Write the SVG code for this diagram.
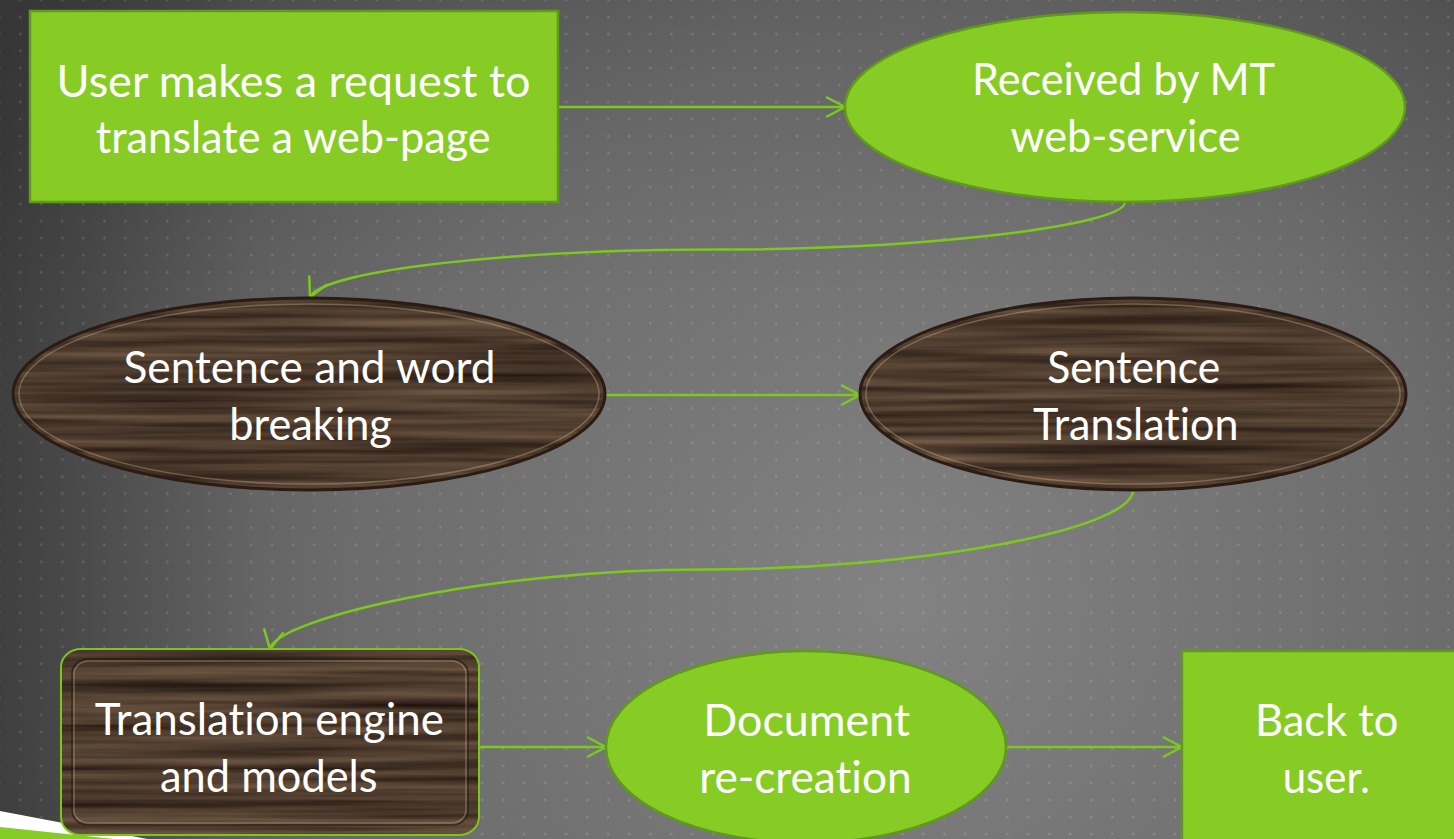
<svg xmlns="http://www.w3.org/2000/svg" width="1454" height="839" viewBox="0 0 1454 839">
<style>
.t{fill:#ffffff;font-family:Lato,"Open Sans","DejaVu Sans",sans-serif;font-size:44px;font-variant-ligatures:none;font-feature-settings:"liga" 0,"clig" 0}
.gr{fill:#87cc25;stroke:#5f9a1c;stroke-width:2.5}
.rim{fill:none;stroke:#2a1c12;stroke-width:3}
.hl{fill:none;stroke:#d9bd94;stroke-opacity:0.35;stroke-width:1.5}
.cn{fill:none;stroke:#7dc81e;stroke-width:2.5;marker-end:url(#ah)}
</style>
<defs>
<radialGradient id="bg" gradientUnits="userSpaceOnUse" cx="900" cy="600" r="1000">
<stop offset="0" stop-color="#828282"/>
<stop offset="0.55" stop-color="#6c6c6c"/>
<stop offset="1" stop-color="#4a4a4a"/>
</radialGradient>
<linearGradient id="lv" gradientUnits="userSpaceOnUse" x1="0" y1="0" x2="260" y2="0">
<stop offset="0" stop-color="#000" stop-opacity="0.22"/>
<stop offset="1" stop-color="#000" stop-opacity="0"/>
</linearGradient>
<linearGradient id="tv" gradientUnits="userSpaceOnUse" x1="0" y1="0" x2="0" y2="300">
<stop offset="0" stop-color="#000" stop-opacity="0.08"/>
<stop offset="1" stop-color="#000" stop-opacity="0"/>
</linearGradient>
<pattern id="dots" patternUnits="userSpaceOnUse" x="-11.2" y="-8.51" width="21" height="17.02">
<rect x="9.5" y="7.3" width="2" height="2.4" fill="#ffffff" fill-opacity="0.16"/>
</pattern>
<filter id="wood" x="0" y="0" width="1" height="1" color-interpolation-filters="sRGB">
<feTurbulence type="fractalNoise" baseFrequency="0.003 0.11" numOctaves="3" seed="7" result="t"/>
<feColorMatrix in="t" type="matrix" values="0.42 0 0 0 0.09  0.36 0 0 0 0.05  0.28 0 0 0 0.035  0 0 0 0 1" result="c"/>
<feComposite in="c" in2="SourceAlpha" operator="in"/>
</filter>
<marker id="ah" markerUnits="userSpaceOnUse" markerWidth="24" markerHeight="24" viewBox="-21 -12 24 24" refX="0" refY="0" orient="auto">
<path d="M-19,-10 L0,0 L-19,10" fill="none" stroke="#7dc81e" stroke-width="2.5"/>
</marker>
</defs>

<g id="background">
<rect x="0" y="0" width="1454" height="839" fill="url(#bg)"/>
<rect x="0" y="0" width="1454" height="839" fill="url(#lv)"/>
<rect x="0" y="0" width="1454" height="839" fill="url(#tv)"/>
<rect x="0" y="0" width="1454" height="839" fill="url(#dots)"/>
<polygon points="0,811 200,849 200,860 0,860" fill="#ffffff"/>
<polygon points="0,827 200,848 200,860 0,860" fill="#86cc26"/>
</g>

<g id="connectors">
<path class="cn" d="M558,107 L845,107"/>
<path class="cn" d="M1125,202 C1125,226 921,249.5 717.5,249.5 C514,249.5 323,270 310,297"/>
<path class="cn" d="M605,395 L860,395"/>
<path class="cn" d="M1133,490 C1133,530 917,569.5 702,569.5 C486,569.5 276,619 270,649"/>
<path class="cn" d="M480,747 L606,747"/>
<path class="cn" d="M1006,747 L1182,747"/>
</g>

<g id="n1">
<rect class="gr" x="30" y="11" width="528" height="191"/>
<text class="t" x="56.6" y="97" textLength="474" lengthAdjust="spacingAndGlyphs">User makes a request to</text>
<text class="t" x="95.7" y="153" textLength="395" lengthAdjust="spacingAndGlyphs">translate a web-page</text>
</g>

<g id="n2">
<ellipse class="gr" cx="1125" cy="107" rx="280" ry="95"/>
<text class="t" x="972" y="95" textLength="303" lengthAdjust="spacingAndGlyphs">Received by MT</text>
<text class="t" x="1010.6" y="151.5" textLength="230" lengthAdjust="spacingAndGlyphs">web-service</text>
</g>

<g id="n3">
<ellipse cx="309" cy="394" rx="296" ry="96" fill="#4a372a" filter="url(#wood)"/>
<ellipse class="rim" cx="309" cy="394" rx="296" ry="96"/>
<ellipse class="hl" cx="309" cy="394" rx="290" ry="90"/>
<text class="t" x="123.5" y="383" textLength="372" lengthAdjust="spacingAndGlyphs">Sentence and word</text>
<text class="t" x="229.3" y="440" textLength="162.5" lengthAdjust="spacingAndGlyphs">breaking</text>
</g>

<g id="n4">
<ellipse cx="1133" cy="394" rx="273" ry="96" fill="#4a372a" filter="url(#wood)"/>
<ellipse class="rim" cx="1133" cy="394" rx="273" ry="96"/>
<ellipse class="hl" cx="1133" cy="394" rx="267" ry="90"/>
<text class="t" x="1047.3" y="383" textLength="173" lengthAdjust="spacingAndGlyphs">Sentence</text>
<text class="t" x="1033" y="440" textLength="205.5" lengthAdjust="spacingAndGlyphs">Translation</text>
</g>

<g id="n5">
<rect x="61" y="649" width="418" height="186" rx="20" ry="18" fill="#4a372a" filter="url(#wood)"/>
<rect x="61" y="649" width="418" height="186" rx="20" ry="18" fill="none" stroke="#7cc520" stroke-width="2"/>
<rect x="72" y="659" width="396" height="166" rx="16" ry="14" fill="none" stroke="#1f150e" stroke-opacity="0.6" stroke-width="1.5"/>
<rect x="74" y="661" width="392" height="162" rx="15" ry="13" class="hl"/>
<text class="t" x="94.7" y="735" textLength="349.3" lengthAdjust="spacingAndGlyphs">Translation engine</text>
<text class="t" x="160" y="791.7" textLength="217.6" lengthAdjust="spacingAndGlyphs">and models</text>
</g>

<g id="n6">
<ellipse class="gr" cx="806" cy="747" rx="200" ry="96"/>
<text class="t" x="703.3" y="736" textLength="206.7" lengthAdjust="spacingAndGlyphs">Document</text>
<text class="t" x="699.3" y="793" textLength="212.4" lengthAdjust="spacingAndGlyphs">re-creation</text>
</g>

<g id="n7">
<rect class="gr" x="1182" y="651" width="300" height="220"/>
<text class="t" x="1255" y="736" textLength="143.3" lengthAdjust="spacingAndGlyphs">Back to</text>
<text class="t" x="1282.7" y="793" textLength="87.3" lengthAdjust="spacingAndGlyphs">user.</text>
</g>
</svg>
